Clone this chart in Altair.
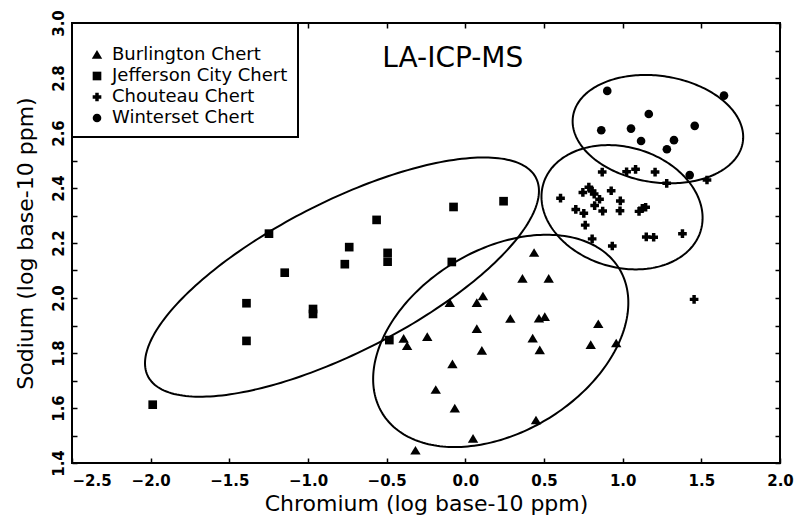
import altair as alt
import numpy as np
import pandas as pd

# ---------------- data ----------------
series_names = ["Burlington Chert", "Jefferson City Chert", "Chouteau Chert", "Winterset Chert"]

burlington_cr = [0.437, 0.363, 0.530, 0.112, -0.099, 0.073, 0.286, 0.468, 0.505, 0.073,
                 -0.392, -0.370, -0.242, 0.428, 0.105, 0.473, 0.845, 0.797, 0.959, -0.082,
                 -0.188, -0.067, 0.449, 0.049, -0.317]
burlington_na = [2.163, 2.069, 2.069, 2.005, 1.981, 1.981, 1.923, 1.924, 1.930, 1.886,
                 1.851, 1.824, 1.857, 1.852, 1.807, 1.809, 1.904, 1.828, 1.834, 1.758,
                 1.665, 1.597, 1.554, 1.487, 1.444]

jefferson_cr = [-1.987, -1.391, -1.391, -1.248, -1.148, -0.968, -0.968, -0.766, -0.738, -0.564,
                -0.494, -0.494, -0.483, -0.086, -0.075, 0.243]
jefferson_na = [1.612, 1.844, 1.981, 2.234, 2.092, 1.960, 1.942, 2.123, 2.185, 2.284,
                2.164, 2.132, 1.847, 2.131, 2.331, 2.352]

chouteau_cr = [0.870, 1.025, 1.082, 1.206, 1.280, 1.536, 0.605, 0.747, 0.785, 0.806,
               0.819, 0.927, 0.853, 0.985, 0.822, 0.702, 0.753, 0.873, 0.983, 1.104,
               1.125, 1.146, 0.762, 0.806, 0.934, 1.150, 1.197, 1.380, 1.454]
chouteau_na = [2.458, 2.459, 2.468, 2.458, 2.417, 2.429, 2.363, 2.384, 2.403, 2.389,
               2.378, 2.390, 2.359, 2.353, 2.336, 2.322, 2.308, 2.316, 2.317, 2.315,
               2.326, 2.330, 2.265, 2.215, 2.189, 2.222, 2.221, 2.234, 1.995]

winterset_cr = [0.902, 1.644, 1.166, 0.864, 1.053, 1.458, 1.117, 1.326, 1.281, 1.426]
winterset_na = [2.753, 2.736, 2.669, 2.610, 2.616, 2.626, 2.571, 2.574, 2.541, 2.447]

# group ellipses: centre, half-width (Cr), half-height (Na), correlation
ellipse_group = series_names
ellipse_cx = [0.225, -0.784, 0.996, 1.224]
ellipse_cy = [1.844, 2.076, 2.330, 2.614]
ellipse_hw = [0.811, 1.252, 0.512, 0.542]
ellipse_hh = [0.386, 0.435, 0.226, 0.197]
ellipse_rho = [0.36, 0.72, -0.17, -0.145]

annot_x = [-0.08]
annot_y = [2.869]
annot_text = ["LA-ICP-MS"]

x_label_vals = [-2.5, -2.0, -1.5, -1.0, -0.5, 0.0, 0.5, 1.0, 1.5, 2.0]
y_label_vals = [1.4, 1.6, 1.8, 2.0, 2.2, 2.4, 2.6, 2.8, 3.0]
y_tick_vals = [1.4, 1.5, 1.6, 1.7, 1.8, 1.9, 2.0, 2.1, 2.2, 2.3, 2.4, 2.5, 2.6, 2.7, 2.8, 2.9, 3.0]

# ---------------- tables ----------------
rows = []
for name, xs, ys in zip(series_names,
                        [burlington_cr, jefferson_cr, chouteau_cr, winterset_cr],
                        [burlington_na, jefferson_na, chouteau_na, winterset_na]):
    for a, b in zip(xs, ys):
        rows.append({"series": name, "cr": a, "na": b})
pts_df = pd.DataFrame(rows)

t = np.linspace(0, 2 * np.pi, 241)
ell_rows = []
for g, cx, cy, hw, hh, r in zip(ellipse_group, ellipse_cx, ellipse_cy, ellipse_hw, ellipse_hh, ellipse_rho):
    xs = cx + hw * np.cos(t)
    ys = cy + hh * (r * np.cos(t) + np.sqrt(1 - r * r) * np.sin(t))
    for i, (a, b) in enumerate(zip(xs, ys)):
        ell_rows.append({"grp": g, "idx": i, "x": float(a), "y": float(b)})
ell_df = pd.DataFrame(ell_rows)

annot_df = pd.DataFrame({"x": annot_x, "y": annot_y, "label": annot_text})

# ---------------- chart ----------------
W, H = 708, 440
FONT = "DejaVu Sans"
x_scale = alt.Scale(domain=[-2.5, 2.0], nice=False, zero=False)
y_scale = alt.Scale(domain=[1.4, 3.0], nice=False, zero=False)

TRIANGLE = "M0,-1.15L1.2,0.85L-1.2,0.85Z"

tick_axis_common = dict(labels=False, ticks=True, tickSize=5, tickWidth=1.5, tickColor="black",
                        domain=False, grid=False, title=None)

ellipses = alt.Chart(ell_df).mark_line(color="black", strokeWidth=2).encode(
    x=alt.X("x:Q", scale=x_scale,
            axis=alt.Axis(orient="top", offset=-H, values=x_label_vals, **tick_axis_common)),
    y=alt.Y("y:Q", scale=y_scale,
            axis=alt.Axis(orient="right", offset=-W, values=y_tick_vals, **tick_axis_common)),
    detail="grp:N",
    order="idx:Q",
)

points = alt.Chart(pts_df).mark_point(filled=True, opacity=1, color="black", size=75).encode(
    x=alt.X("cr:Q", scale=x_scale,
            axis=alt.Axis(orient="bottom", values=x_label_vals, format=".1f", ticks=False, tickSize=0,
                          domain=False, grid=False, title="Chromium (log base-10 ppm)",
                          labelFontSize=15, labelFontWeight="bold", labelPadding=10,
                          labelAlign={"condition": {"test": "datum.value == -2.5", "value": "left"},
                                      "value": "center"},
                          titlePadding=5)),
    y=alt.Y("na:Q", scale=y_scale,
            axis=alt.Axis(orient="left", values=y_label_vals, format=".1f", ticks=False, tickSize=0,
                          domain=False, grid=False, title="Sodium (log base-10 ppm)",
                          labelFontSize=15, labelFontWeight="bold", labelAngle=270,
                          labelAlign="center", labelBaseline="bottom", labelPadding=6,
                          titlePadding=14)),
    shape=alt.Shape("series:N",
                    scale=alt.Scale(domain=series_names,
                                    range=[TRIANGLE, "square", "cross", "circle"]),
                    legend=alt.Legend(title=" ", orient="top-left", offset=0, padding=10,
                                      strokeColor="black", fillColor="white",
                                      labelFont=FONT, labelFontSize=18, labelColor="black",
                                      labelLimit=400,
                                      symbolFillColor="black", symbolStrokeColor="black",
                                      symbolStrokeWidth=0, symbolSize=75, symbolOffset=6,
                                      symbolOpacity=1, labelOffset=6, rowPadding=3,
                                      titleFontSize=13, titlePadding=0)),
)

annot = alt.Chart(annot_df).mark_text(font=FONT, fontSize=28, color="black").encode(
    x=alt.X("x:Q", scale=x_scale,
            axis=alt.Axis(orient="bottom", offset=-H, values=x_label_vals, **tick_axis_common)),
    y=alt.Y("y:Q", scale=y_scale,
            axis=alt.Axis(orient="left", offset=-W, values=y_tick_vals, **tick_axis_common)),
    text="label:N",
)

chart = (
    alt.layer(ellipses, points, annot)
    .resolve_axis(x="independent", y="independent")
    .properties(width=W, height=H,
                autosize=alt.AutoSizeParams(type="none"),
                padding={"left": 72, "top": 23, "right": 14, "bottom": 55})
    .configure(background="white")
    .configure_view(stroke="black", strokeWidth=2)
    .configure_axis(labelFont=FONT, titleFont=FONT, labelColor="black", titleColor="black",
                    titleFontSize=22, titleFontWeight="normal")
    .configure_legend(strokeWidth=2)
)

chart.save("out.html", embed_options={"renderer": "svg", "actions": False})
